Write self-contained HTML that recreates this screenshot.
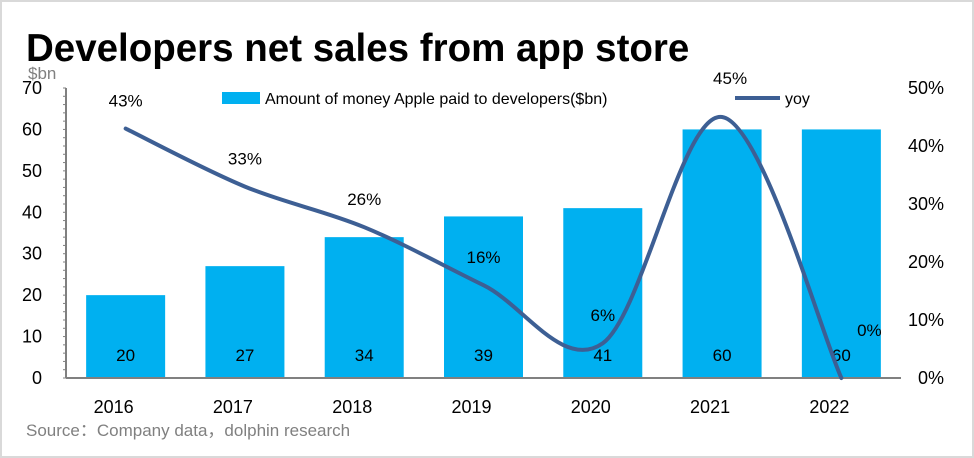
<!DOCTYPE html>
<html><head><meta charset="utf-8"><style>
body{margin:0;background:#fff}
#wrap{position:relative;width:974px;height:458px;overflow:hidden;font-family:"Liberation Sans","Noto Sans CJK SC",sans-serif}
</style></head><body>
<div id="wrap">
<svg id="chart" width="974" height="458">
<rect x="1" y="1" width="972" height="456" fill="#fff" stroke="#d9d9d9" stroke-width="2"/>
<text x="26" y="61" font-size="38.5" font-weight="bold" fill="#000">Developers net sales from app store</text>
<text x="28" y="79" font-size="17" fill="#808080">$bn</text>
<text x="26" y="436" font-size="17" fill="#808080">Source：Company data，dolphin research</text>
<g id="legend">
<rect x="222" y="92" width="38" height="12" fill="#00b0f0"/>
<text x="265" y="104" font-size="16" fill="#000">Amount of money Apple paid to developers($bn)</text>
<line x1="735" y1="98" x2="780" y2="98" stroke="#3d5f94" stroke-width="4"/>
<text x="785" y="104" font-size="16" fill="#000">yoy</text>
</g>
<g id="plot"></g>
</svg>
</div>
<script>
const categories=["2016","2017","2018","2019","2020","2021","2022"];
const salesValues=[20,27,34,39,41,60,60];
const salesLabels=["20","27","34","39","41","60","60"];
const yoyValues=[43,33,26,16,6,45,0];
const leftTicks=[0,10,20,30,40,50,60,70];
const rightTicks=[0,10,20,30,40,50];

const NS="http://www.w3.org/2000/svg";
const g=document.getElementById('plot');
const X0=66,X1=901,Y0=378,Y1=88;
const band=(X1-X0)/categories.length;
const xc=i=>X0+band*(i+0.5);
const yL=v=>Y0-(v/70)*(Y0-Y1);
const yR=v=>Y0-(v/50)*(Y0-Y1);
function el(t,a){const e=document.createElementNS(NS,t);for(const k in a)e.setAttribute(k,a[k]);g.appendChild(e);return e;}

leftTicks.forEach(v=>{
  const t=el('text',{x:42,y:yL(v)+6,'font-size':18,'text-anchor':'end',fill:'#000'});
  t.textContent=v;
  
  
});
rightTicks.forEach(v=>{
  const t=el('text',{x:944,y:yR(v)+6,'font-size':18,'text-anchor':'end',fill:'#000'});
  t.textContent=v+'%';
  
  
});
for(let v=0;v<=70;v+=2){
  const l=el('line',{x1:X0-3,x2:X0,y1:yL(v),y2:yL(v),stroke:'#808080','stroke-width':1});
  
  
}
categories.forEach((c,i)=>{
  const bw=79;
  const r=el('rect',{x:xc(i)-bw/2,y:yL(salesValues[i]),width:bw,height:Y0-yL(salesValues[i]),fill:'#00b0f0'});
  
  
  const t=el('text',{x:xc(i),y:361,'font-size':17,'text-anchor':'middle',fill:'#000'});
  t.textContent=salesLabels[i];
  
  
  const xl=el('text',{x:xc(i)-12,y:413,'font-size':18,'text-anchor':'middle',fill:'#000'});
  xl.textContent=c;
  
  
});
const ax=el('line',{x1:X0,x2:X0,y1:Y1,y2:Y0,stroke:'#808080','stroke-width':2});


const bx=el('line',{x1:X0,x2:X1,y1:Y0,y2:Y0,stroke:'#808080','stroke-width':2});



const pts=yoyValues.map((v,i)=>[xc(i),yR(v)]);
let d='M'+pts[0][0]+','+pts[0][1];
for(let i=0;i<pts.length-1;i++){
  const p0=pts[Math.max(0,i-1)],p1=pts[i],p2=pts[i+1],p3=pts[Math.min(pts.length-1,i+2)];
  const k=1/6;
  const c1=[p1[0]+(p2[0]-p0[0])*k,p1[1]+(p2[1]-p0[1])*k];
  const c2=[p2[0]-(p3[0]-p1[0])*k,p2[1]-(p3[1]-p1[1])*k];
  d+=' C'+c1[0]+','+c1[1]+' '+c2[0]+','+c2[1]+' '+p2[0]+','+p2[1];
}
const line=el('path',{d:d,fill:'none',stroke:'#3d5f94','stroke-width':4,'stroke-linecap':'round'});


yoyValues.forEach((v,i)=>{
  let lx=xc(i),ly=yR(v)-22;
  if(i===5){lx=xc(i)+8;ly=yR(v)-33;}
  if(i===categories.length-1){lx=xc(i)+28;ly=yR(v)-42;}
  const t=el('text',{x:lx,y:ly,'font-size':17,'text-anchor':'middle',fill:'#000'});
  t.textContent=v+'%';
  
  
});
</script>
</body></html>
